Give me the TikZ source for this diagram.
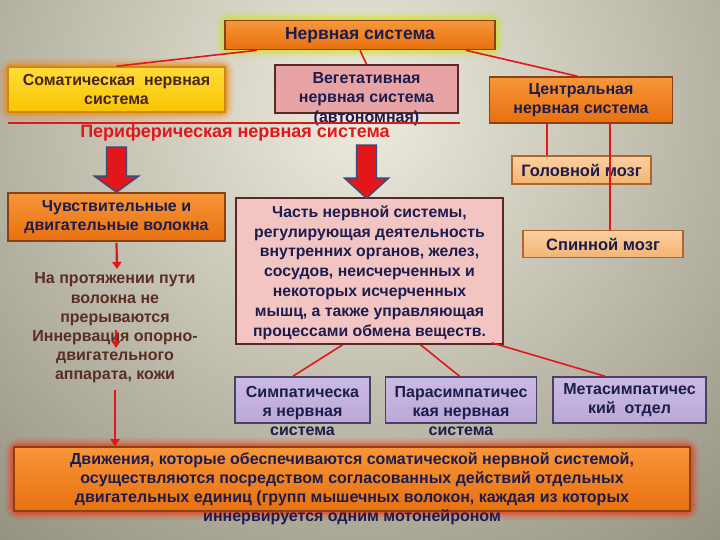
\documentclass[tikz,border=0pt]{standalone}
\usepackage{fontspec}
\setmainfont{Liberation Sans}
\usetikzlibrary{arrows.meta,calc}
\pgfdeclarelayer{bg}\pgfdeclarelayer{glow}\pgfsetlayers{bg,glow,main}
\definecolor{navy}{HTML}{1C1C4E}
\definecolor{brownt}{HTML}{5A2E22}
\definecolor{redl}{HTML}{E3161A}
\definecolor{otop}{HTML}{F7963A}
\definecolor{obot}{HTML}{E8700F}
\definecolor{obord}{HTML}{8A4212}
\definecolor{ytop}{HTML}{FFDC3A}
\definecolor{ybot}{HTML}{F8C400}
\definecolor{ybord}{HTML}{C88A10}
\definecolor{pink1}{HTML}{E8A4A4}
\definecolor{pink2}{HTML}{F2C4C2}
\definecolor{pbord}{HTML}{5A2828}
\definecolor{peach}{HTML}{FAD0A0}
\definecolor{peachb}{HTML}{F3B574}
\definecolor{peachbord}{HTML}{B0662A}
\definecolor{purp}{HTML}{CBBAE4}
\definecolor{purpb}{HTML}{BBA8D8}
\definecolor{purpbord}{HTML}{4A4060}
\definecolor{arrbord}{HTML}{3C4A78}
\definecolor{bgin}{HTML}{EEECDF}
\definecolor{bgout}{HTML}{8F8C7A}
\tikzset{
  box/.style={draw, line width=1.6pt, align=center, inner sep=0pt, text=navy,
    font=\bfseries\fontsize{16}{19}\selectfont},
  orangebox/.style={box, draw=obord, top color=otop, bottom color=obot},
  yellowbox/.style={box, draw=ybord, top color=ytop, bottom color=ybot, text=brownt!80!black},
  pinkbox/.style={box, draw=pbord, fill=pink1},
  lpinkbox/.style={box, draw=pbord, fill=pink2},
  peachbox/.style={box, draw=peachbord, top color=peach, bottom color=peachb, line width=1.4pt},
  purpbox/.style={box, draw=purpbord, top color=purp, bottom color=purpb},
  txt/.style={align=center, inner sep=0pt, text=navy, font=\bfseries\fontsize{16}{19.3}\selectfont},
  link/.style={draw=redl, line width=1.6pt},
  smallarrow/.style={draw=redl, line width=2.2pt, -{Triangle[length=7pt,width=9pt]}},
  bigarrow/.style={fill=redl, draw=arrbord, line width=1.4pt, line join=miter},
}
\newcommand\glowbox[2]{%
  \begin{pgfonlayer}{glow}
  \foreach \w/\o in {16/0.10,11/0.16,7/0.22,3.5/0.35}
    \draw[line width=\w pt, color=#2, opacity=\o, rounded corners=5pt]
      (#1.south west) rectangle (#1.north east);
  \end{pgfonlayer}}
\begin{document}
\begin{tikzpicture}[x=1pt,y=-1pt]
\useasboundingbox (0,0) rectangle (720,540);
\begin{pgfonlayer}{bg}
  \clip (0,0) rectangle (720,540);
  \shade[inner color=bgin, outer color=bgout] (360,110) circle (600);
\end{pgfonlayer}

% top level
\node[orangebox, minimum width=270pt, minimum height=29pt, font=\bfseries\fontsize{17.5}{19}\selectfont] (ns) at (360,35) {Нервная система};
\node[yellowbox, minimum width=217pt, minimum height=45pt] (som) at (116.5,89.5) {Соматическая\ \ нервная\\система};
\node[pinkbox, minimum width=183pt, minimum height=48pt] (veg) at (366.5,89) {};
\node[txt] (vegt) at ($(veg.center)+(0,10)$) {Вегетативная\\нервная система\\(автономная)};
\node[orangebox, minimum width=183pt, minimum height=46pt] (cns) at (581,100) {Центральная\\нервная система};

\glowbox{ns}{yellow!80!green}
\glowbox{som}{orange}

\draw[link] ($(ns.south west)!0.12!(ns.south east)$) -- ($(som.north west)!0.5!(som.north east)$);
\draw[link] (ns.south) -- (veg.north);
\draw[link] ($(ns.south west)!0.89!(ns.south east)$) -- ($(cns.north west)!0.48!(cns.north east)$);

% peripheral line and label
\coordinate (pl1) at (8,123);
\coordinate (pl2) at (460,123);
\draw[link] (pl1) -- (pl2);
\node[inner sep=0pt, text=redl, font=\bfseries\fontsize{18}{19}\selectfont] (periph) at (235,133) {Периферическая нервная система};

% CNS branch
\node[peachbox, minimum width=139pt, minimum height=28pt, font=\bfseries\fontsize{16.5}{19}\selectfont] (gm) at (581.5,170) {Головной мозг};
\node[peachbox, minimum width=160pt, minimum height=27pt, font=\bfseries\fontsize{16.5}{19}\selectfont] (sm) at (603,244) {Спинной мозг};
\draw[link] (cns.south -| 547,0) -- (gm.north -| 547,0);
\draw[link] (cns.south -| 610,0) -- (sm.north -| 610,0);

% middle level
\node[orangebox, minimum width=217pt, minimum height=48pt] (chuv) at (116.5,217) {Чувствительные и\\двигательные волокна};
\node[lpinkbox, minimum width=267pt, minimum height=146pt] (chast) at (369.5,271) {};
\node[txt, font=\bfseries\fontsize{15.8}{19.8}\selectfont] (chastt) at ($(chast.center)+(0,1.5)$) {Часть нервной системы,\\регулирующая деятельность\\внутренних органов, желез,\\сосудов, неисчерченных и\\некоторых исчерченных\\мышц, а также управляющая\\процессами обмена веществ.};

% big arrows
\begin{scope}[shift={(chuv.north)}]
  \draw[bigarrow] (-10,-45) -- (10,-45) -- (10,-16) -- (22,-16) -- (0,0) -- (-22,-16) -- (-10,-16) -- cycle;
\end{scope}
\begin{scope}[shift={($(chast.north)+(-3,1)$)}]
  \draw[bigarrow] (-10,-53) -- (10,-53) -- (10,-20) -- (22,-20) -- (0,0) -- (-22,-20) -- (-10,-20) -- cycle;
\end{scope}

% left text column
\node[txt, text=brownt, font=\bfseries\fontsize{16}{19.2}\selectfont] (napr) at (115,328) {На протяжении пути\\волокна не\\прерываются\\Иннервация опорно-\\двигательного\\аппарата, кожи};
\path (chuv.south) ++(0,1) coordinate (a1s);
\coordinate (a1e) at (117,269);
\draw[smallarrow] (a1s) -- (a1e);
\coordinate (a2s) at (116,330);
\coordinate (a2e) at (116,348);
\draw[smallarrow] (a2s) -- (a2e);

% subdivisions
\node[purpbox, minimum width=135pt, minimum height=46pt] (sym) at (302.5,400) {};
\node[txt] (symt) at ($(sym.center)+(0,11)$) {Симпатическа\\я нервная\\система};
\node[purpbox, minimum width=151pt, minimum height=46pt] (para) at (461,400) {};
\node[txt] (parat) at ($(para.center)+(0,11)$) {Парасимпатичес\\кая нервная\\система};
\node[purpbox, minimum width=153pt, minimum height=46pt] (meta) at (629.5,400) {Метасимпатичес\\кий\ \ отдел};

\draw[link] ($(chast.south west)!0.40!(chast.south east)$) -- ($(sym.north west)!0.43!(sym.north east)$);
\draw[link] ($(chast.south west)!0.69!(chast.south east)$) -- ($(para.north west)!0.49!(para.north east)$);
\draw[link] ($(chast.south east)+(-12,-2)$) -- ($(meta.north west)!0.34!(meta.north east)$);

% bottom box
\node[orangebox, minimum width=676pt, minimum height=64pt] (bot) at (352,479) {};
\node[txt, font=\bfseries\fontsize{16}{19}\selectfont] (bott) at ($(bot.center)+(0,10)$) {Движения, которые обеспечиваются соматической нервной системой,\\осуществляются посредством согласованных действий отдельных\\двигательных единиц (групп мышечных волокон, каждая из которых\\иннервируется одним мотонейроном};
\glowbox{bot}{red!70!orange}

\coordinate (a3s) at (115,390);
\draw[smallarrow] (a3s) -- (bot.north -| a3s);
\end{tikzpicture}
\end{document}
